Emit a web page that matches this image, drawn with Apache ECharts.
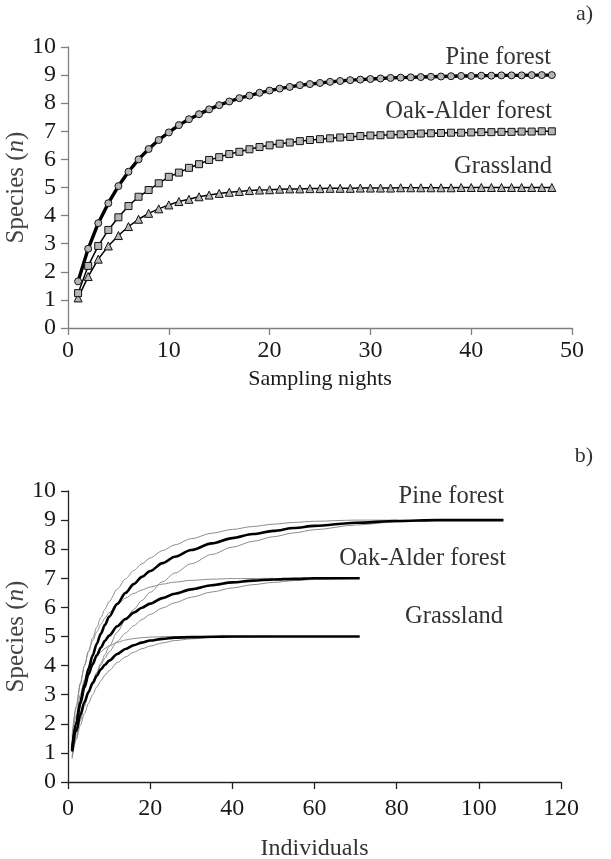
<!DOCTYPE html>
<html>
<head>
<meta charset="utf-8">
<script src="https://cdn.jsdelivr.net/npm/echarts@6/dist/echarts.min.js"></script>
<style>html,body{margin:0;padding:0;background:#fff}#c{width:611px;height:859px}</style>
</head>
<body>
<div id="c"></div>
<script>
// ---- Panel a) : species vs sampling nights ----
const nights = Array.from({length: 48}, (_, i) => i + 1);
const pineA = [1.66,2.82,3.73,4.44,5.05,5.56,6.0,6.37,6.69,6.96,7.22,7.43,7.61,7.78,7.93,8.06,8.18,8.27,8.37,8.45,8.52,8.58,8.64,8.68,8.72,8.76,8.79,8.82,8.84,8.86,8.88,8.90,8.91,8.92,8.93,8.94,8.95,8.96,8.97,8.97,8.98,8.98,8.99,8.99,8.99,9.0,9.0,9.0];
const oakA = [1.24,2.21,2.92,3.49,3.94,4.34,4.67,4.91,5.15,5.38,5.53,5.70,5.83,5.98,6.08,6.19,6.27,6.36,6.44,6.50,6.56,6.60,6.65,6.69,6.72,6.75,6.78,6.80,6.83,6.85,6.86,6.88,6.89,6.90,6.92,6.93,6.94,6.95,6.95,6.96,6.97,6.97,6.98,6.98,6.99,6.99,7.0,7.0];
const grassA = [1.07,1.83,2.45,2.92,3.29,3.61,3.87,4.08,4.24,4.38,4.50,4.58,4.67,4.73,4.79,4.83,4.86,4.89,4.91,4.92,4.94,4.95,4.95,4.96,4.96,4.97,4.97,4.97,4.98,4.98,4.98,4.98,4.99,4.99,4.99,4.99,4.99,4.99,5.0,5.0,5.0,5.0,5.0,5.0,5.0,5.0,5.0,5.0];
const xTicksA = [0, 10, 20, 30, 40, 50];

// ---- Panel b) : species vs individuals (mean curves and thin bounds) ----
const pineBx =   [1,2,3,4,5,6,7,8,9,10,12,14,16,18,20,23,26,30,35,40,45,50,55,60,70,80,90,106];
const pineB =    [1.1,2.0,2.75,3.35,3.9,4.35,4.75,5.1,5.4,5.68,6.12,6.5,6.8,7.05,7.25,7.52,7.74,7.97,8.2,8.38,8.52,8.63,8.73,8.8,8.91,8.97,9.0,9.0];
const pineUpX =  [1,2,3,4,5,6,7,8,9,10,12,14,16,18,20,23,26,30,35,40,45,50,55,60,70,80];
const pineUp =   [1.5,2.55,3.35,4.0,4.5,4.95,5.32,5.65,5.94,6.2,6.63,6.98,7.27,7.5,7.7,7.95,8.15,8.36,8.55,8.68,8.78,8.86,8.92,8.96,9.0,9.0];
const pineLoX =  [1,2,3,4,5,6,7,8,9,10,12,14,16,18,20,23,26,30,35,40,45,50,55,60,70,80,90];
const pineLo =   [0.8,1.5,2.1,2.6,3.02,3.4,3.76,4.08,4.38,4.66,5.15,5.57,5.93,6.24,6.52,6.88,7.18,7.5,7.82,8.07,8.27,8.43,8.56,8.67,8.83,8.94,9.0];
const oakBx =    [1,2,3,4,5,6,7,8,9,10,12,14,16,18,20,23,26,30,35,40,45,50,55,60,71];
const oakB =     [1.15,2.0,2.7,3.25,3.7,4.05,4.35,4.62,4.85,5.03,5.35,5.6,5.82,5.99,6.13,6.32,6.47,6.62,6.76,6.86,6.92,6.96,6.98,7.0,7.0];
const oakUpX =   [1,2,3,4,5,6,7,8,9,10,12,14,16,18,20,23,26,30,35,40,50];
const oakUp =    [1.6,2.6,3.4,4.0,4.47,4.85,5.16,5.42,5.63,5.82,6.1,6.32,6.48,6.6,6.7,6.8,6.87,6.93,6.97,6.99,7.0];
const oakLoX =   [1,2,3,4,5,6,7,8,9,10,12,14,16,18,20,23,26,30,35,40,45,50,55,60,71];
const oakLo =    [0.9,1.6,2.2,2.7,3.1,3.45,3.75,4.02,4.26,4.47,4.83,5.12,5.37,5.58,5.76,5.98,6.16,6.35,6.53,6.67,6.78,6.86,6.92,6.96,7.0];
const grassBx =  [1,2,3,4,5,6,7,8,9,10,12,14,16,18,20,23,26,30,35,40,71];
const grassB =   [1.05,1.75,2.3,2.75,3.1,3.4,3.65,3.87,4.03,4.17,4.4,4.57,4.7,4.79,4.86,4.92,4.96,4.98,4.99,5.0,5.0];
const grassUpX = [1,2,3,4,5,6,7,8,9,10,12,14,16,18,20,25,35];
const grassUp =  [1.4,2.3,3.0,3.5,3.85,4.12,4.32,4.47,4.59,4.68,4.8,4.88,4.93,4.96,4.98,5.0,5.0];
const grassLoX = [1,2,3,4,5,6,7,8,9,10,12,14,16,18,20,23,26,30,35,40,50];
const grassLo =  [0.85,1.45,1.95,2.35,2.7,3.0,3.26,3.48,3.67,3.83,4.1,4.3,4.46,4.58,4.67,4.78,4.86,4.92,4.96,4.98,5.0];
const xTicksB = [0, 20, 40, 60, 80, 100, 120];
const yTicks = [0,1,2,3,4,5,6,7,8,9,10];

const seriesNames = ['Pine forest', 'Oak-Alder forest', 'Grassland'];

const pair = (xs, ys) => xs.map((x, i) => [x, ys[i]]);
const FONT = 'Liberation Serif';
const txt = '#1a1a1a';

function axis(extra, lineColor, labelMargin) {
  return Object.assign({
    type: 'value',
    axisLine: {lineStyle: {color: lineColor, width: 1.3}},
    axisTick: {lineStyle: {color: lineColor, width: 1.3}, length: 7},
    axisLabel: {fontFamily: FONT, fontSize: 24, color: txt, margin: labelMargin},
    splitLine: {show: false}
  }, extra);
}
const yName = {
  name: 'Species ({i|n})', nameLocation: 'middle', nameGap: 39, nameRotate: 90,
  nameMoveOverlap: false,
  nameTextStyle: {fontFamily: FONT, fontSize: 25, color: '#444',
    rich: {i: {fontFamily: FONT, fontSize: 25, fontStyle: 'italic', color: '#444'}}}
};

function markerSeries(name, data, symbol, lw, size) {
  return {
    name, type: 'line', xAxisIndex: 0, yAxisIndex: 0,
    data: pair(nights, data), symbol, symbolSize: size, showSymbol: true,
    lineStyle: {color: '#000', width: lw},
    itemStyle: {color: '#b5b5b5', borderColor: '#111', borderWidth: 1},
    z: 3, animation: false
  };
}
function curve(name, xs, ys, thick) {
  return {
    name, type: 'line', xAxisIndex: 1, yAxisIndex: 1, smooth: 0.3, smoothMonotone: 'x',
    data: pair(xs, ys), showSymbol: false, symbol: 'none',
    lineStyle: thick ? {color: '#000', width: 2.6} : {color: '#8c8c8c', width: 1},
    z: thick ? 3 : 2, animation: false
  };
}
function label(text, x, y, size) {
  return {type: 'text', x, y, style: {text, font: size + 'px "Liberation Serif"', fill: '#333', align: 'right', verticalAlign: 'middle'}};
}

const chart = echarts.init(document.getElementById('c'), null, {renderer: 'canvas'});
chart.setOption({
  animation: false,
  grid: [
    {left: 68, right: 39, top: 47, height: 281, containLabel: false, outerBoundsMode: 'none'},
    {left: 68, right: 50, top: 491, height: 291, containLabel: false, outerBoundsMode: 'none'}
  ],
  xAxis: [
    axis({gridIndex: 0, min: 0, max: 50, interval: 10,
      name: 'Sampling nights', nameLocation: 'middle', nameGap: 40,
      nameTextStyle: {fontFamily: FONT, fontSize: 22, color: txt}}, '#808080', 11),
    axis({gridIndex: 1, min: 0, max: 120, interval: 20,
      name: 'Individuals', nameLocation: 'middle', nameGap: 55,
      nameTextStyle: {fontFamily: FONT, fontSize: 24, color: '#333'}}, '#222', 15)
  ],
  yAxis: [
    axis(Object.assign({gridIndex: 0, min: 0, max: 10, interval: 1}, yName), '#808080', 12),
    axis(Object.assign({gridIndex: 1, min: 0, max: 10, interval: 1}, yName), '#222', 12)
  ],
  series: [
    markerSeries(seriesNames[2], grassA, 'triangle', 1.5, 8),
    markerSeries(seriesNames[1], oakA, 'rect', 1.5, 7),
    markerSeries(seriesNames[0], pineA, 'circle', 3.4, 7),
    curve('Pine upper', pineUpX, pineUp, false),
    curve('Pine lower', pineLoX, pineLo, false),
    curve('Oak upper', oakUpX, oakUp, false),
    curve('Oak lower', oakLoX, oakLo, false),
    curve('Grass upper', grassUpX, grassUp, false),
    curve('Grass lower', grassLoX, grassLo, false),
    curve(seriesNames[0], pineBx, pineB, true),
    curve(seriesNames[1], oakBx, oakB, true),
    curve(seriesNames[2], grassBx, grassB, true)
  ],
  graphic: [
    label('a)', 593, 14, 22),
    label('b)', 593, 456, 22),
    label(seriesNames[0], 551, 58, 24.5),
    label(seriesNames[1], 552, 112, 24.5),
    label(seriesNames[2], 552, 167, 24.5),
    label(seriesNames[0], 504, 497, 24.5),
    label(seriesNames[1], 506, 559, 24.5),
    label(seriesNames[2], 503, 617, 24.5)
  ]
});
</script>
</body>
</html>
